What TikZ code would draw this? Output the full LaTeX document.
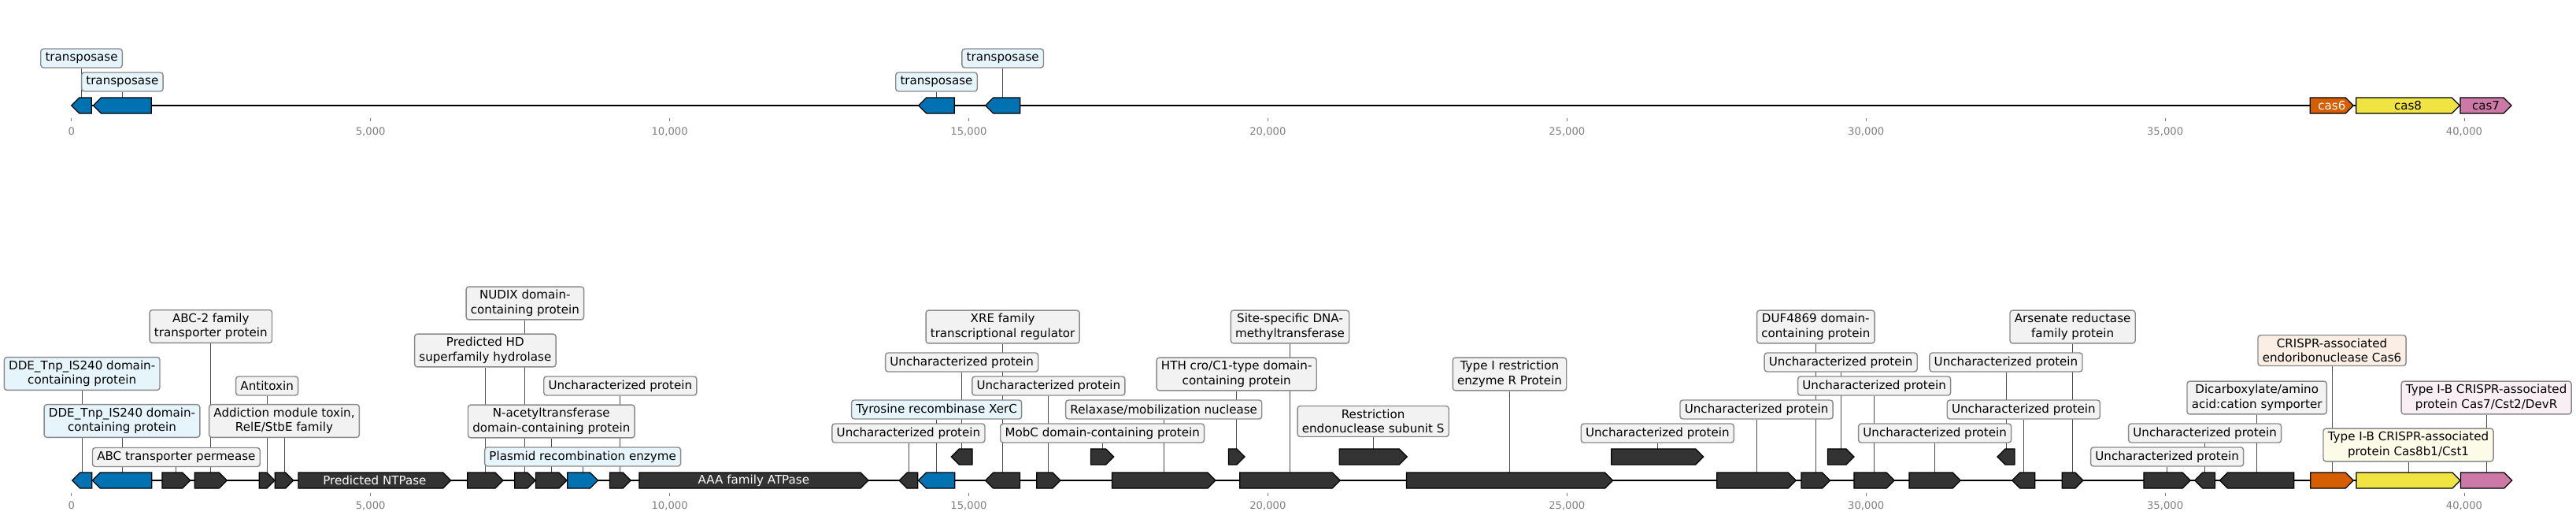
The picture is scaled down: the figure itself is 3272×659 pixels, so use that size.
\documentclass[tikz,border=0pt]{standalone}
\usepackage{fontspec}
\setmainfont{DejaVu Sans}
\usetikzlibrary{positioning}

\definecolor{gblue}{HTML}{0072B2}
\definecolor{gdark}{HTML}{333333}
\definecolor{gorange}{HTML}{D55E00}
\definecolor{gyellow}{HTML}{F0E442}
\definecolor{gpink}{HTML}{CC79A7}
\definecolor{lblue}{HTML}{E6F4FB}
\definecolor{lgray}{HTML}{F2F2F2}
\definecolor{lorange}{HTML}{FBEFE5}
\definecolor{lyellow}{HTML}{FCFBE7}
\definecolor{lpink}{HTML}{F8EEF3}
\definecolor{boxgray}{HTML}{8A8A8A}

\pgfdeclarelayer{back}
\pgfsetlayers{back,main}

\tikzset{
  gene/.style={draw=black, line width=0.7pt, line join=miter},
  lbl/.style={draw=boxgray, fill=lgray, line width=0.8pt, rounded corners=2pt, align=center,
    inner xsep=3.3pt, inner ysep=2.5pt, minimum height=0.48cm, font=\fontsize{8.6}{10.5}\selectfont},
  leader/.style={draw=black!70, line width=0.5pt},
  axisline/.style={line width=1.1pt},
  tickmark/.style={draw=gray, line width=0.5pt},
  ticktext/.style={text=gray, font=\fontsize{7.5}{9}\selectfont, inner sep=0pt},
  gtext/.style={font=\fontsize{8.6}{10}\selectfont, inner sep=0pt},
}

% 基因箭头:名称, 起点, 终点, 高度, 颜色
\newcommand{\genefwd}[5]{%
  \draw[gene, fill=#5] (#2,#4-10) -- (#3-10,#4-10) -- (#3,#4) -- (#3-10,#4+10) -- (#2,#4+10) -- cycle;
  \coordinate (#1) at ({(#2+#3)/2},#4-10);
  \coordinate (#1c) at ({(#2+#3)/2},#4);}
\newcommand{\generev}[5]{%
  \draw[gene, fill=#5] (#2,#4) -- (#2+10,#4-10) -- (#3,#4-10) -- (#3,#4+10) -- (#2+10,#4+10) -- cycle;
  \coordinate (#1) at ({(#2+#3)/2},#4-10);
  \coordinate (#1c) at ({(#2+#3)/2},#4);}
% 标签框与引线
\newcommand{\genelbl}[4][]{%
  \node[lbl,#1] (#2l) at (#2 |- 0,#3) {#4};
  \begin{pgfonlayer}{back}\draw[leader] (#2) -- (#2l.south);\end{pgfonlayer}}

\begin{document}
\begin{tikzpicture}[x=0.02cm, y=-0.02cm]
  \useasboundingbox (0,0) rectangle (3272,659);

  % 刻度
  \foreach \k/\t in {0/0, 1/{5,000}, 2/{10,000}, 3/{15,000}, 4/{20,000}, 5/{25,000}, 6/{30,000}, 7/{35,000}, 8/{40,000}} {
    \draw[tickmark] (90.8+379.9*\k,150) -- (90.8+379.9*\k,154);
    \node[ticktext] (tt\k) at (90.8+379.9*\k,167) {\t};
    \draw[tickmark] (90.8+379.9*\k,626) -- (90.8+379.9*\k,630);
    \node[ticktext] (bt\k) at (90.8+379.9*\k,642) {\t};
  }

  % 上图:转座酶与 cas 基因
  \generev{t1}{90.8}{116.3}{134}{gblue}
  \generev{t2}{118.4}{192.3}{134}{gblue}
  \generev{t3}{1166.7}{1212.3}{134}{gblue}
  \generev{t4}{1251.7}{1295.7}{134}{gblue}
  \genefwd{t5}{2934.3}{2989.3}{134}{gorange}
  \genefwd{t6}{2992.7}{3124.3}{134}{gyellow}
  \genefwd{t7}{3125}{3190}{134}{gpink}
  \node[gtext, text=white] (t5t) at (t5c) {cas6};
  \node[gtext] (t6t) at (t6c) {cas8};
  \node[gtext] (t7t) at (t7c) {cas7};
  \begin{pgfonlayer}{back}\draw[axisline] (t1c) -- (t7c);\end{pgfonlayer}

  \genelbl[fill=lblue]{t1}{74}{transposase}
  \genelbl[fill=lblue]{t2}{104}{transposase}
  \genelbl[fill=lblue]{t3}{104}{transposase}
  \genelbl[fill=lblue]{t4}{74}{transposase}

  % 下图:完整注释
  \generev{b1}{91.7}{116.7}{610}{gblue}
  \generev{b2}{117.3}{192.7}{610}{gblue}
  \genefwd{b3}{206}{241.7}{610}{gdark}
  \genefwd{b4}{247.3}{288.3}{610}{gdark}
  \genefwd{b5}{329.3}{349}{610}{gdark}
  \genefwd{b6}{349.3}{372.7}{610}{gdark}
  \genefwd{b7}{379}{572.7}{610}{gdark}
  \genefwd{b8}{593.8}{638.9}{610}{gdark}
  \genefwd{b9}{653.8}{679.9}{610}{gdark}
  \genefwd{b10}{680.6}{720}{610}{gdark}
  \genefwd{b11}{720.8}{759.5}{610}{gblue}
  \genefwd{b12}{774.4}{801.2}{610}{gdark}
  \genefwd{b13}{811.9}{1102.9}{610}{gdark}
  \generev{b14}{1142.1}{1165.8}{610}{gdark}
  \generev{b15}{1166.5}{1212.8}{610}{gblue}
  \generev{r1}{1208.3}{1235}{580}{gdark}
  \generev{b16}{1251.6}{1295.6}{610}{gdark}
  \genefwd{b17}{1316.7}{1347}{610}{gdark}
  \genefwd{r2}{1385.5}{1414.8}{580}{gdark}
  \genefwd{b18}{1412.5}{1543.9}{610}{gdark}
  \genefwd{r3}{1560.5}{1580.9}{580}{gdark}
  \genefwd{b19}{1574.8}{1702.3}{610}{gdark}
  \genefwd{r4}{1701.1}{1787.2}{580}{gdark}
  \genefwd{b20}{1786.4}{2048.6}{610}{gdark}
  \genefwd{r5}{2046.8}{2163.8}{580}{gdark}
  \genefwd{b21}{2180.8}{2281.3}{610}{gdark}
  \genefwd{b22}{2288}{2324.6}{610}{gdark}
  \genefwd{r6}{2321.4}{2354.9}{580}{gdark}
  \genefwd{b23}{2354.9}{2406.3}{610}{gdark}
  \genefwd{b24}{2425}{2490.2}{610}{gdark}
  \generev{r7}{2537}{2558.9}{580}{gdark}
  \generev{b25}{2555.8}{2584.8}{610}{gdark}
  \genefwd{b26}{2619.2}{2646}{610}{gdark}
  \genefwd{b27}{2723}{2782.2}{610}{gdark}
  \generev{b28}{2787.7}{2813.5}{610}{gdark}
  \generev{b29}{2819.5}{2913.8}{610}{gdark}
  \genefwd{b30}{2934.8}{2989.2}{610}{gorange}
  \genefwd{b31}{2993}{3125}{610}{gyellow}
  \genefwd{b32}{3125.5}{3190.7}{610}{gpink}
  \node[gtext, text=white] (b7t) at (b7c) {Predicted NTPase};
  \node[gtext, text=white] (b13t) at (b13c) {AAA family ATPase};
  \begin{pgfonlayer}{back}\draw[axisline] (b1c) -- (b32c);\end{pgfonlayer}

  \genelbl[fill=lblue]{b1}{474.5}{DDE\_Tnp\_IS240 domain-\\containing protein}
  \genelbl[fill=lblue]{b2}{534.5}{DDE\_Tnp\_IS240 domain-\\containing protein}
  \genelbl{b3}{580.5}{ABC transporter permease}
  \genelbl{b4}{414.5}{ABC-2 family\\transporter protein}
  \genelbl{b5}{490}{Antitoxin}
  \genelbl{b6}{534.5}{Addiction module toxin,\\RelE/StbE family}
  \genelbl{b8}{445}{Predicted HD\\superfamily hydrolase}
  \genelbl{b9}{385}{NUDIX domain-\\containing protein}
  \genelbl{b10}{535}{N-acetyltransferase\\domain-containing protein}
  \genelbl[fill=lblue]{b11}{580}{Plasmid recombination enzyme}
  \genelbl{b12}{490}{Uncharacterized protein}
  \genelbl{b14}{550}{Uncharacterized protein}
  \genelbl[fill=lblue]{b15}{520}{Tyrosine recombinase XerC}
  \genelbl{r1}{460}{Uncharacterized protein}
  \genelbl{b16}{415}{XRE family\\transcriptional regulator}
  \genelbl{b17}{490}{Uncharacterized protein}
  \genelbl{r2}{550}{MobC domain-containing protein}
  \genelbl{b18}{520}{Relaxase/mobilization nuclease}
  \genelbl{r3}{475}{HTH cro/C1-type domain-\\containing protein}
  \genelbl{b19}{415}{Site-specific DNA-\\methyltransferase}
  \genelbl{r4}{535}{Restriction\\endonuclease subunit S}
  \genelbl{b20}{475}{Type I restriction\\enzyme R Protein}
  \genelbl{r5}{550}{Uncharacterized protein}
  \genelbl{b21}{520}{Uncharacterized protein}
  \genelbl{b22}{415}{DUF4869 domain-\\containing protein}
  \genelbl{r6}{460}{Uncharacterized protein}
  \genelbl{b23}{490}{Uncharacterized protein}
  \genelbl{b24}{550}{Uncharacterized protein}
  \genelbl{r7}{460}{Uncharacterized protein}
  \genelbl{b25}{520}{Uncharacterized protein}
  \genelbl{b26}{415}{Arsenate reductase\\family protein}
  \genelbl{b27}{580}{Uncharacterized protein}
  \genelbl{b28}{550}{Uncharacterized protein}
  \genelbl{b29}{505}{Dicarboxylate/amino\\acid:cation symporter}
  \genelbl[fill=lorange]{b30}{445}{CRISPR-associated\\endoribonuclease Cas6}
  \genelbl[fill=lyellow]{b31}{565}{Type I-B CRISPR-associated\\protein Cas8b1/Cst1}
  \genelbl[fill=lpink]{b32}{505}{Type I-B CRISPR-associated\\protein Cas7/Cst2/DevR}
\end{tikzpicture}
\end{document}
